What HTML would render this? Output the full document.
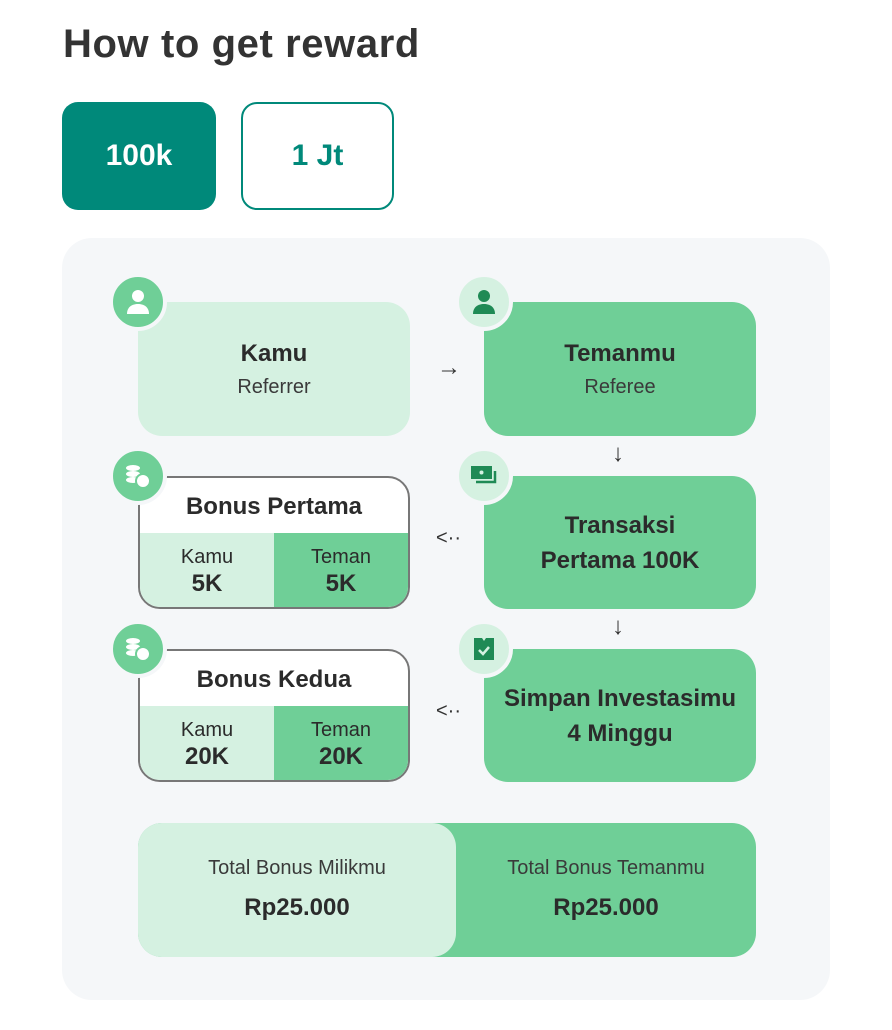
<!DOCTYPE html>
<html><head><meta charset="utf-8"><style>
*{margin:0;padding:0;box-sizing:border-box}
body{width:892px;height:1030px;background:#fff;font-family:"Liberation Sans",sans-serif;color:#2b2b2b;position:relative;overflow:hidden}
.a{position:absolute}
.box{position:absolute;border-radius:24px;display:flex;flex-direction:column;align-items:center;justify-content:center;text-align:center}
.lt{background:#d5f1e1}.md{background:#6fcf97}
.t{font-weight:bold;font-size:24px;line-height:35px}
.s{font-size:20px;line-height:32px;color:#3a3a3a}
.ic{position:absolute;width:58px;height:58px;border-radius:50%;border:4px solid #f5f7f9;display:flex;align-items:center;justify-content:center}
.icl{background:#6fcf97}.icr{background:#d5f1e1}
.arr{position:absolute;font-size:24px;color:#333}
.bon{position:absolute;left:138px;width:272px;height:133px;border:2px solid #777;border-radius:22px;overflow:hidden;background:#fff}
.bon .h{height:55px;display:flex;align-items:center;justify-content:center;font-weight:bold;font-size:24px;padding-top:2px}
.bon .r{display:flex;height:76px}
.bon .r div{flex:1;display:flex;flex-direction:column;align-items:center;justify-content:center;font-size:20px;line-height:24px}
.bon .r b{font-size:24px;line-height:29px}
</style></head><body>
<div class="a" style="left:63px;top:22px;font-size:40px;font-weight:bold;color:#333;letter-spacing:0.6px">How to get reward</div>
<div class="a" style="left:62px;top:102px;width:154px;height:108px;border-radius:16px;background:#00897a;color:#fff;font-weight:bold;font-size:30px;display:flex;align-items:center;justify-content:center">100k</div>
<div class="a" style="left:241px;top:102px;width:153px;height:108px;border-radius:16px;border:2px solid #00897a;color:#00897a;font-weight:bold;font-size:30px;display:flex;align-items:center;justify-content:center">1 Jt</div>
<div class="a" style="left:62px;top:238px;width:768px;height:762px;border-radius:30px;background:#f5f7f9"></div>

<div class="box lt" style="left:138px;top:302px;width:272px;height:134px"><div class="t">Kamu</div><div class="s">Referrer</div></div>
<div class="box md" style="left:484px;top:302px;width:272px;height:134px"><div class="t">Temanmu</div><div class="s">Referee</div></div>
<div class="box md" style="left:484px;top:476px;width:272px;height:133px"><div class="t">Transaksi<br>Pertama 100K</div></div>
<div class="box md" style="left:484px;top:649px;width:272px;height:133px"><div class="t">Simpan Investasimu<br>4 Minggu</div></div>

<div class="bon" style="top:476px"><div class="h">Bonus Pertama</div><div class="r"><div class="lt">Kamu<b>5K</b></div><div class="md">Teman<b>5K</b></div></div></div>
<div class="bon" style="top:649px"><div class="h">Bonus Kedua</div><div class="r"><div class="lt">Kamu<b>20K</b></div><div class="md">Teman<b>20K</b></div></div></div>

<div class="arr" style="left:437px;top:354px">→</div>
<div class="arr" style="left:612px;top:440px">↓</div>
<div class="arr" style="left:612px;top:613px">↓</div>
<div class="arr" style="left:436px;top:527px;font-size:20px">&lt;··</div>
<div class="arr" style="left:436px;top:700px;font-size:20px">&lt;··</div>

<div class="ic icl" style="left:109px;top:273px"><svg width="24" height="26" viewBox="0 0 24 26"><circle cx="12" cy="7" r="6" fill="#fff"/><path d="M1 25c0-7 5-10 11-10s11 3 11 10z" fill="#fff"/></svg></div>
<div class="ic icr" style="left:455px;top:273px"><svg width="24" height="26" viewBox="0 0 24 26"><circle cx="12" cy="7" r="6" fill="#1f8a55"/><path d="M1 25c0-7 5-10 11-10s11 3 11 10z" fill="#1f8a55"/></svg></div>
<div class="ic icl" style="left:109px;top:447px"><svg width="28" height="26" viewBox="0 0 28 26"><ellipse cx="9" cy="5" rx="7" ry="3" fill="#fff"/><ellipse cx="9" cy="11" rx="7" ry="3" fill="#fff"/><ellipse cx="9" cy="17" rx="7" ry="3" fill="#fff"/><circle cx="19" cy="18" r="7" fill="#fff" stroke="#6fcf97" stroke-width="2"/></svg></div>
<div class="ic icr" style="left:455px;top:447px"><svg width="28" height="24" viewBox="0 0 28 24"><rect x="1" y="2" width="21" height="13" fill="#1f8a55"/><path d="M25 7v11H6" stroke="#1f8a55" stroke-width="2.5" fill="none"/><circle cx="11.5" cy="8.5" r="2" fill="#d5f1e1"/></svg></div>
<div class="ic icl" style="left:109px;top:620px"><svg width="28" height="26" viewBox="0 0 28 26"><ellipse cx="9" cy="5" rx="7" ry="3" fill="#fff"/><ellipse cx="9" cy="11" rx="7" ry="3" fill="#fff"/><ellipse cx="9" cy="17" rx="7" ry="3" fill="#fff"/><circle cx="19" cy="18" r="7" fill="#fff" stroke="#6fcf97" stroke-width="2"/></svg></div>
<div class="ic icr" style="left:455px;top:620px"><svg width="22" height="24" viewBox="0 0 22 24"><path d="M1 1h8l2 3 2-3h8v22H1z" fill="#1f8a55"/><path d="M6 13l4 4 6-7" stroke="#d5f1e1" stroke-width="2.5" fill="none"/></svg></div>

<div class="a md" style="left:138px;top:823px;width:618px;height:134px;border-radius:24px"></div>
<div class="box lt" style="left:138px;top:823px;width:318px;height:134px"><div class="s" style="margin-top:-4px">Total Bonus Milikmu</div><div class="t" style="margin-top:6px">Rp25.000</div></div>
<div class="box" style="left:456px;top:823px;width:300px;height:134px"><div class="s" style="margin-top:-4px">Total Bonus Temanmu</div><div class="t" style="margin-top:6px">Rp25.000</div></div>
</body></html>
